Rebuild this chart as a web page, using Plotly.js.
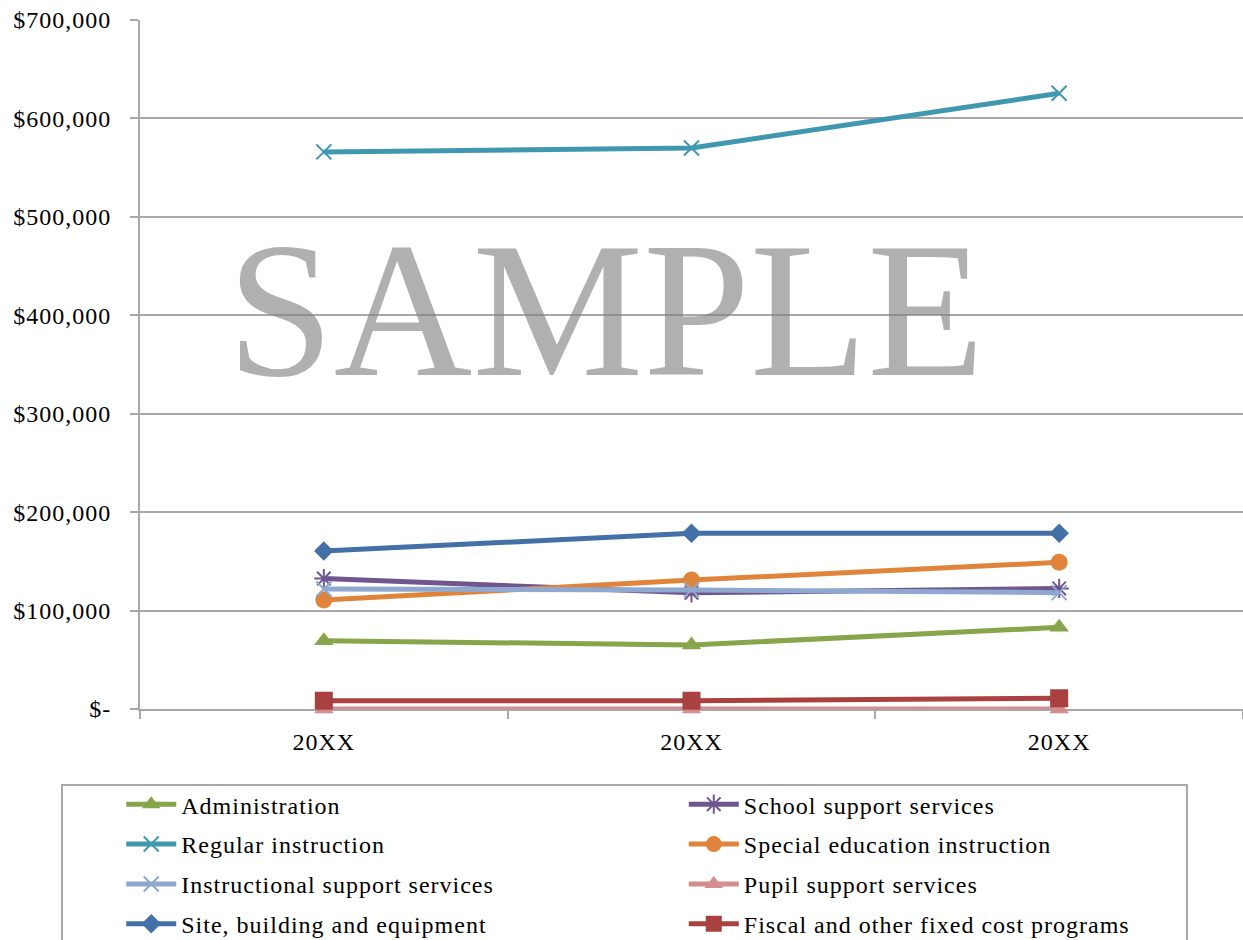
<!DOCTYPE html>
<html>
<head>
<meta charset="utf-8">
<script src="https://cdn.plot.ly/plotly-3.0.1.min.js"></script>
<style>
  html, body { margin: 0; padding: 0; background: #ffffff; }
  #chart { width: 1243px; height: 940px; }
  /* slightly open letter spacing for the serif labels (also used when Plotly measures text) */
  svg text { letter-spacing: 1px; }
  svg text.annotation-text { letter-spacing: 0; }
</style>
</head>
<body>
<div id="chart"></div>
<script>
// Years shown on the category axis
const periods = [0, 1, 2];
const periodLabels = ['20XX', '20XX', '20XX'];

// Spending by program area (dollars)
const administration        = [69400, 65000, 83000];
const schoolSupport         = [132500, 118000, 122500];
const regularInstruction    = [566000, 570000, 625500];
const specialEducation      = [110700, 131000, 149000];
const instructionalSupport  = [122000, 121000, 118200];
const pupilSupport          = [0, 0, 0];
const siteBuilding          = [160400, 178500, 178500];
const fiscalFixedCost       = [8400, 8400, 10900];

// Value axis ticks
const yTickVals  = [0, 100000, 200000, 300000, 400000, 500000, 600000, 700000];
const yTickText  = ['$-', '$100,000', '$200,000', '$300,000', '$400,000', '$500,000', '$600,000', '$700,000'];

const serif = 'Liberation Serif, Times New Roman, serif';
const gray = '#a8a8a8';

function series(name, y, color, symbol, size, legendId, open) {
  const marker = { symbol: symbol, size: size, color: color };
  if (open) marker.line = { color: color, width: 2 };
  return {
    type: 'scatter',
    mode: 'lines+markers',
    name: name,
    legendgroup: name,
    legend: legendId,
    x: periods,
    y: y,
    cliponaxis: false,
    line: { color: color, width: 5 },
    marker: marker,
    hoverinfo: 'name+y'
  };
}

const traces = [
  series('Administration', administration, '#87a54a', 'triangle-up', 17, 'legend', false),
  series('School support services', schoolSupport, '#6f568f', 'asterisk-open', 16, 'legend2', true),
  series('Regular instruction', regularInstruction, '#3f98b0', 'x-thin-open', 15, 'legend', true),
  series('Special education instruction', specialEducation, '#e1843b', 'circle', 17, 'legend2', false),
  series('Instructional support services', instructionalSupport, '#8ea8d0', 'x-thin-open', 15, 'legend', true),
  series('Pupil support services', pupilSupport, '#d48d8c', 'triangle-up', 17, 'legend2', false),
  series('Site, building and equipment', siteBuilding, '#4470a8', 'diamond', 15, 'legend', false),
  series('Fiscal and other fixed cost programs', fiscalFixedCost, '#a8413f', 'square', 18, 'legend2', false)
];

const legendStyle = {
  orientation: 'v',
  xanchor: 'left',
  yanchor: 'top',
  bgcolor: 'rgba(0,0,0,0)',
  borderwidth: 0,
  traceorder: 'grouped',
  tracegroupgap: 5.7,
  itemwidth: 50,
  font: { family: serif, size: 24, color: '#000000' }
};

const layout = {
  width: 1243,
  height: 940,
  paper_bgcolor: '#ffffff',
  plot_bgcolor: '#ffffff',
  margin: { l: 140, r: 0, t: 20, b: 231, autoexpand: false },
  showlegend: true,
  font: { family: serif, size: 24, color: '#000000' },
  xaxis: {
    range: [-0.5, 2.5],
    tickmode: 'array',
    tickvals: periods,
    ticktext: periodLabels,
    ticks: '',
    showgrid: false,
    zeroline: false,
    showline: true,
    linecolor: gray,
    linewidth: 2,
    layer: 'below traces',
    ticklabelstandoff: 10,
    tickfont: { family: serif, size: 24, color: '#000000' },
    minor: { tick0: -0.5, dtick: 1, ticks: 'outside', ticklen: 8, tickwidth: 2, tickcolor: gray, showgrid: false },
    fixedrange: true
  },
  yaxis: {
    range: [0, 700000],
    tickmode: 'array',
    tickvals: yTickVals,
    ticktext: yTickText,
    ticks: 'outside',
    ticklen: 8,
    tickwidth: 2,
    tickcolor: gray,
    showgrid: true,
    gridcolor: gray,
    gridwidth: 1.5,
    zeroline: false,
    showline: true,
    linecolor: gray,
    linewidth: 2,
    layer: 'below traces',
    ticklabelstandoff: 14,
    tickfont: { family: serif, size: 24, color: '#000000' },
    fixedrange: true
  },
  legend: Object.assign({}, legendStyle, { x: -0.017, y: -0.106 }),
  legend2: Object.assign({}, legendStyle, { x: 0.493, y: -0.106 }),
  shapes: [
    {
      type: 'rect', xref: 'paper', yref: 'paper',
      x0: -0.0707, x1: 0.9492, y0: -0.1103, y1: -0.40,
      line: { color: gray, width: 2 }, fillcolor: 'rgba(0,0,0,0)', layer: 'below'
    }
  ],
  annotations: [
    {
      text: 'SAMPLE', xref: 'paper', yref: 'paper', x: 0.4225, y: 0.579,
      xanchor: 'center', yanchor: 'middle', showarrow: false,
      font: { family: serif, size: 192, color: 'rgba(128,128,128,0.62)' }
    }
  ]
};

Plotly.newPlot('chart', traces, layout, { displayModeBar: false, responsive: false });
</script>
</body>
</html>
